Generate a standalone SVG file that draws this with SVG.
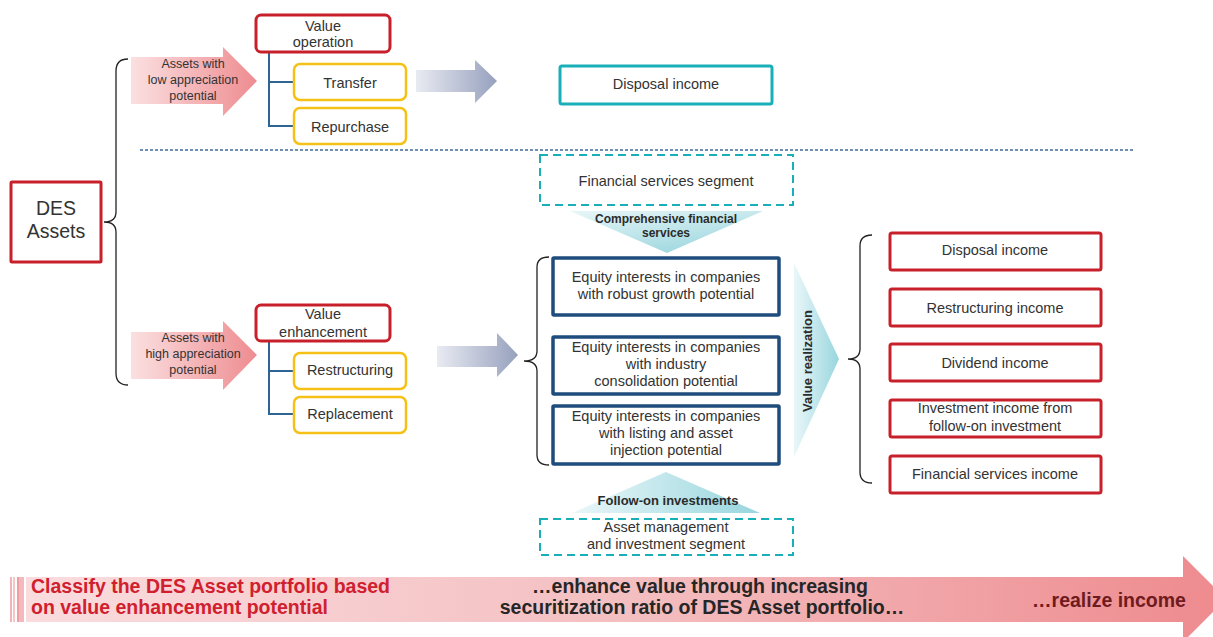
<svg xmlns="http://www.w3.org/2000/svg" width="1213" height="637" viewBox="0 0 1213 637">
  <defs>
    <linearGradient id="pinkArrow" x1="0" y1="0" x2="1" y2="0">
      <stop offset="0" stop-color="#FBE0E1"/>
      <stop offset="1" stop-color="#EE8C90"/>
    </linearGradient>
    <linearGradient id="slateArrow" x1="0" y1="0" x2="1" y2="0">
      <stop offset="0" stop-color="#E9EBF2"/>
      <stop offset="1" stop-color="#97A1BE"/>
    </linearGradient>
    <linearGradient id="tealH" x1="0" y1="0" x2="1" y2="0">
      <stop offset="0" stop-color="#EAF7F9"/>
      <stop offset="1" stop-color="#98D6DE"/>
    </linearGradient>
    <linearGradient id="tealDown" x1="0" y1="0" x2="0.6" y2="1">
      <stop offset="0" stop-color="#E8F6F8"/>
      <stop offset="1" stop-color="#9ED8DF"/>
    </linearGradient>
    <linearGradient id="bandGrad" x1="0" y1="0" x2="1" y2="0">
      <stop offset="0" stop-color="#FADCDE"/>
      <stop offset="0.5" stop-color="#F4BFC1"/>
      <stop offset="1" stop-color="#EE8A8E"/>
    </linearGradient>
    <style>
      text { font-family: "Liberation Sans", Arial, sans-serif; fill: #333333; }
      .t14 { font-size: 14.5px; text-anchor: middle; }
      .t12 { font-size: 12.5px; text-anchor: middle; }
      .b12 { font-size: 12px; font-weight: bold; text-anchor: middle; fill: #2B2B2B; }
      .big { font-size: 19.5px; font-weight: bold; }
      .redBox { fill: #FFFFFF; stroke: #C8202A; stroke-width: 3; }
      .yelBox { fill: #FFFFFF; stroke: #F5C117; stroke-width: 2.5; }
      .blueBox { fill: #FFFFFF; stroke: #1E4C7C; stroke-width: 3.5; }
      .tealBox { fill: #FFFFFF; stroke: #19AFB9; stroke-width: 3; }
      .dashBox { fill: #FFFFFF; stroke: #19AFB9; stroke-width: 2; stroke-dasharray: 8 5; }
      .tree { fill: none; stroke: #2E6396; stroke-width: 2; }
      .brace { fill: none; stroke: #222222; stroke-width: 1.3; }
    </style>
  </defs>

  <rect width="1213" height="637" fill="#FFFFFF"/>

  <!-- connectors: braces, tree lines, separator -->
  <g id="connectors">
    <line x1="140" y1="150" x2="1135" y2="150" stroke="#3F6A9A" stroke-width="1.3" stroke-dasharray="3 2"/>
    <path class="brace" d="M128,59 Q116,59 116,71 L116,212 Q116,222 104,222 Q116,222 116,232 L116,373 Q116,385 128,385"/>
    <path class="brace" d="M549,257 Q537,257 537,267 L537,351 Q537,361 524,361 Q537,361 537,371 L537,455 Q537,465 549,465"/>
    <path class="brace" d="M872,235 Q860,235 860,246 L860,349 Q860,359 848,359 Q860,359 860,369 L860,472 Q860,483 872,483"/>
    <path class="tree" d="M269,52 V126 H294 M269,82 H294"/>
    <path class="tree" d="M269,341 V414 H294 M269,371 H294"/>
    <!-- flow arrows -->
    <polygon fill="url(#slateArrow)" points="416,70 475,70 475,60 497,81 475,103 475,92 416,92"/>
    <polygon fill="url(#slateArrow)" points="437,346 497,346 497,333 518,355 497,377 497,367 437,367"/>
  </g>

  <!-- root node -->
  <g id="des-assets">
    <rect class="redBox" x="11" y="182" width="90" height="80" rx="1"/>
    <text x="56" y="215" style="font-size:19.5px;text-anchor:middle">DES</text>
    <text x="56" y="238" style="font-size:19.5px;text-anchor:middle">Assets</text>
  </g>

  <!-- low appreciation branch -->
  <g id="low-appreciation">
    <polygon fill="url(#pinkArrow)" points="131,57 223,57 223,47 257,81 223,116 223,104 131,104"/>
    <text class="t12" x="193" y="68">Assets with</text>
    <text class="t12" x="193" y="84">low appreciation</text>
    <text class="t12" x="193" y="100">potential</text>
  </g>
  <g id="value-operation">
    <rect class="redBox" x="256" y="15" width="134" height="37" rx="5"/>
    <text class="t14" x="323" y="31">Value</text>
    <text class="t14" x="323" y="47">operation</text>
  </g>
  <g id="transfer">
    <rect class="yelBox" x="294" y="64" width="112" height="36" rx="6"/>
    <text class="t14" x="350" y="88">Transfer</text>
  </g>
  <g id="repurchase">
    <rect class="yelBox" x="294" y="108" width="112" height="36" rx="6"/>
    <text class="t14" x="350" y="132">Repurchase</text>
  </g>
  <g id="disposal-top">
    <rect class="tealBox" x="560" y="66" width="212" height="38" rx="2"/>
    <text class="t14" x="666" y="89">Disposal income</text>
  </g>

  <!-- high appreciation branch -->
  <g id="high-appreciation">
    <polygon fill="url(#pinkArrow)" points="131,332 223,332 223,321 257,355 223,390 223,379 131,379"/>
    <text class="t12" x="193" y="342">Assets with</text>
    <text class="t12" x="193" y="358">high appreciation</text>
    <text class="t12" x="193" y="374">potential</text>
  </g>
  <g id="value-enhancement">
    <rect class="redBox" x="256" y="305" width="134" height="36" rx="5"/>
    <text class="t14" x="323" y="319">Value</text>
    <text class="t14" x="323" y="337">enhancement</text>
  </g>
  <g id="restructuring">
    <rect class="yelBox" x="294" y="353" width="112" height="36" rx="6"/>
    <text class="t14" x="350" y="375">Restructuring</text>
  </g>
  <g id="replacement">
    <rect class="yelBox" x="294" y="397" width="112" height="36" rx="6"/>
    <text class="t14" x="350" y="419">Replacement</text>
  </g>

  <!-- segments feeding the portfolio -->
  <g id="financial-services-segment">
    <rect class="dashBox" x="540" y="155" width="253" height="50"/>
    <text class="t14" x="666" y="186">Financial services segment</text>
  </g>
  <g id="comprehensive-services">
    <polygon fill="url(#tealDown)" points="570,211 763,211 667,253"/>
    <text class="b12" x="666" y="223">Comprehensive financial</text>
    <text class="b12" x="666" y="237">services</text>
  </g>
  <g id="equity-growth">
    <rect class="blueBox" x="553" y="258" width="226" height="57" rx="1"/>
    <text class="t14" x="666" y="282">Equity interests in companies</text>
    <text class="t14" x="666" y="299">with robust growth potential</text>
  </g>
  <g id="equity-consolidation">
    <rect class="blueBox" x="553" y="337" width="226" height="57" rx="1"/>
    <text class="t14" x="666" y="352">Equity interests in companies</text>
    <text class="t14" x="666" y="369">with industry</text>
    <text class="t14" x="666" y="386">consolidation potential</text>
  </g>
  <g id="equity-listing">
    <rect class="blueBox" x="553" y="406" width="226" height="58" rx="1"/>
    <text class="t14" x="666" y="421">Equity interests in companies</text>
    <text class="t14" x="666" y="438">with listing and asset</text>
    <text class="t14" x="666" y="455">injection potential</text>
  </g>
  <g id="follow-on">
    <polygon fill="url(#tealH)" points="666,472 760,513 572,513"/>
    <text class="b12" x="668" y="505" style="font-size:13px">Follow-on investments</text>
  </g>
  <g id="asset-management-segment">
    <rect class="dashBox" x="540" y="519" width="253" height="36"/>
    <text class="t14" x="666" y="532">Asset management</text>
    <text class="t14" x="666" y="549">and investment segment</text>
  </g>

  <!-- value realization -->
  <g id="value-realization">
    <polygon fill="url(#tealH)" points="794,263 839,359 794,457"/>
    <text x="812" y="361" transform="rotate(-90 812 361)" style="font-size:13px;font-weight:bold;text-anchor:middle;fill:#2B2B2B">Value realization</text>
  </g>

  <!-- income outcomes -->
  <g id="income-disposal">
    <rect class="redBox" x="890" y="233" width="211" height="37" rx="2"/>
    <text class="t14" x="995" y="255">Disposal income</text>
  </g>
  <g id="income-restructuring">
    <rect class="redBox" x="890" y="289" width="211" height="37" rx="2"/>
    <text class="t14" x="995" y="313">Restructuring income</text>
  </g>
  <g id="income-dividend">
    <rect class="redBox" x="890" y="344" width="211" height="37" rx="2"/>
    <text class="t14" x="995" y="368">Dividend income</text>
  </g>
  <g id="income-follow-on">
    <rect class="redBox" x="890" y="400" width="211" height="37" rx="2"/>
    <text class="t14" x="995" y="413">Investment income from</text>
    <text class="t14" x="995" y="431">follow-on investment</text>
  </g>
  <g id="income-financial">
    <rect class="redBox" x="890" y="456" width="211" height="37" rx="2"/>
    <text class="t14" x="995" y="479">Financial services income</text>
  </g>

  <!-- process band along the bottom -->
  <g id="process-band">
    <rect x="10" y="577" width="2" height="45" fill="#F2B4B7"/>
    <rect x="13" y="577" width="2" height="45" fill="#F6C6C8"/>
    <rect x="17" y="577" width="2" height="45" fill="#EE9DA1"/>
    <rect x="19" y="577" width="5" height="45" fill="#F3B9BC"/>
    <polygon fill="url(#bandGrad)" points="26,577 1183,577 1183,556 1226,599 1183,642 1183,622 26,622"/>
    <text class="big" x="31" y="593" style="fill:#D0202E">Classify the DES Asset portfolio based</text>
    <text class="big" x="31" y="614" style="fill:#D0202E">on value enhancement potential</text>
    <text class="big" x="700" y="593" style="text-anchor:middle;fill:#262626">…enhance value through increasing</text>
    <text class="big" x="702" y="614" style="text-anchor:middle;fill:#262626">securitization ratio of DES Asset portfolio…</text>
    <text class="big" x="1109" y="607" style="text-anchor:middle;fill:#6E1B20">…realize income</text>
  </g>
</svg>
